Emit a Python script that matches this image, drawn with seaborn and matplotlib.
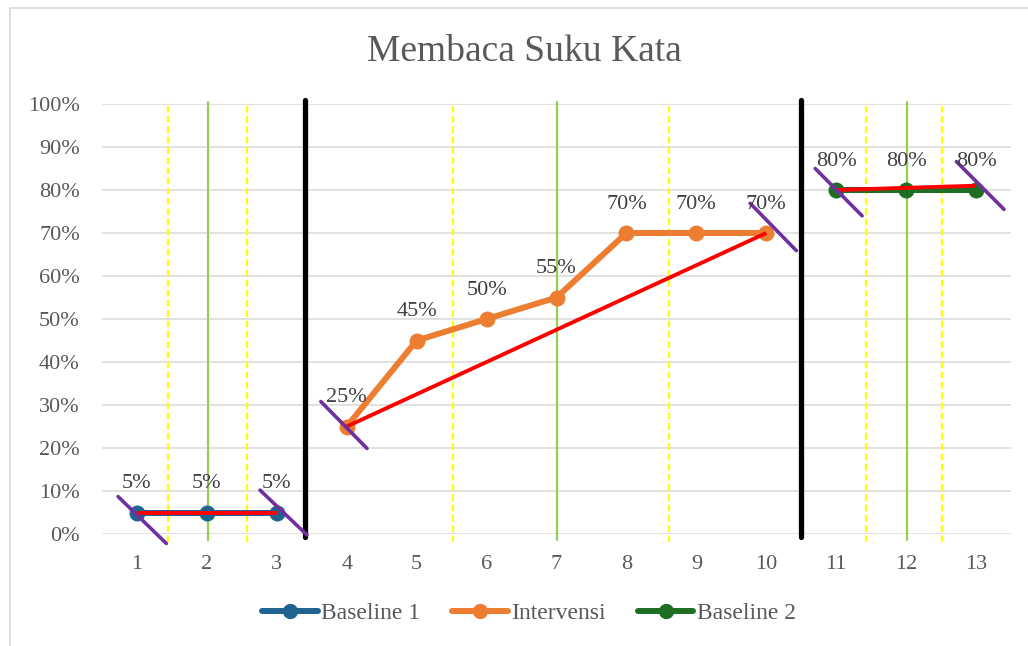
import pandas as pd
import numpy as np
import seaborn as sns
import matplotlib.pyplot as plt
from matplotlib.lines import Line2D

# data
sesi_b1 = [1, 2, 3]
nilai_b1 = [5, 5, 5]
sesi_int = [4, 5, 6, 7, 8, 9, 10]
nilai_int = [25, 45, 50, 55, 70, 70, 70]
sesi_b2 = [11, 12, 13]
nilai_b2 = [80, 80, 80]

fase = ['Baseline 1', 'Intervensi', 'Baseline 2']
warna = {'Baseline 1': '#1F6391', 'Intervensi': '#ED7D31', 'Baseline 2': '#1E6E24'}

# trend lines (start, end) per phase
tren_x = [[1, 3], [4, 10], [11, 13]]
tren_y = [[4.8, 4.8], [25, 70], [80, 81]]

# purple slanted markers (x0, x1, y0, y1)
miring = [
    (0.73, 1.42, 8.7, -2.2),
    (2.76, 3.43, 10.2, -0.2),
    (3.63, 4.29, 30.8, 19.9),
    (9.77, 10.43, 76.9, 65.9),
    (10.70, 11.37, 85.0, 74.0),
    (12.72, 13.40, 86.6, 75.5),
]

garis_kuning = [1.45, 2.58, 5.52, 8.61, 11.42, 12.51]
garis_hijau = [2.01, 7.0, 12.01]
garis_hitam = [3.41, 10.49]

df = pd.concat([
    pd.DataFrame({'sesi': sesi_b1, 'nilai': nilai_b1, 'fase': fase[0]}),
    pd.DataFrame({'sesi': sesi_int, 'nilai': nilai_int, 'fase': fase[1]}),
    pd.DataFrame({'sesi': sesi_b2, 'nilai': nilai_b2, 'fase': fase[2]}),
], ignore_index=True)

sns.set_style('white')
plt.rcParams['font.family'] = ['Liberation Serif', 'DejaVu Serif']
teks = '#595959'

fig = plt.figure(figsize=(10.28, 6.46), dpi=100)
ax = fig.add_axes([102 / 1028, 1 - 534 / 646, (1011 - 102) / 1028, (534 - 104) / 646])

# gridlines
ax.set_yticks(np.arange(0, 101, 10))
ax.yaxis.grid(True, color='#D9D9D9', linewidth=1.1)
ax.set_axisbelow(True)

# vertical phase / session lines
for x in garis_kuning:
    ax.plot([x, x], [-1.8, 100.5], color='#FFFF00', linewidth=1.6,
            linestyle=(0, (3, 1.6)), clip_on=False, zorder=1)
for x in garis_hijau:
    ax.plot([x, x], [-1.5, 100.5], color='#92D050', linewidth=1.6, clip_on=False, zorder=1)
for x in garis_hitam:
    ax.plot([x, x], [-0.8, 101], color='black', linewidth=3.8, clip_on=False, zorder=5)

sns.lineplot(data=df, x='sesi', y='nilai', hue='fase', palette=warna, marker='o',
             markersize=11.5, markeredgewidth=0, linewidth=4.3, ax=ax, legend=False,
             zorder=3)

for xs, ys in zip(tren_x, tren_y):
    ax.plot(xs, ys, color='#FF0000', linewidth=2.8, zorder=4, solid_capstyle='butt')

for x0, x1, y0, y1 in miring:
    ax.plot([x0, x1], [y0, y1], color='#7030A0', linewidth=2.6, zorder=6, clip_on=False)

# data labels
for s, v in zip(df['sesi'], df['nilai']):
    ax.annotate(f'{v}%', (s, v), xytext=(0, 14), textcoords='offset points',
                ha='center', va='bottom', fontsize=16, color='#404040', zorder=7)

ax.set_xlim(0.5, 13.5)
ax.set_ylim(0, 100)
ax.set_xticks(range(1, 14))
ax.set_yticklabels([f'{v}%' for v in range(0, 101, 10)])
ax.tick_params(axis='both', length=0, labelsize=16, labelcolor=teks)
ax.tick_params(axis='y', pad=16)
ax.tick_params(axis='x', pad=15)
ax.set_xlabel('')
ax.set_ylabel('')
sns.despine(ax=ax, left=True, bottom=True)

fig.text(0.510, 1 - 52 / 646, 'Membaca Suku Kata', ha='center', va='center',
         fontsize=27, color=teks)

handles = [Line2D([], [], color=warna[f], linewidth=4.3, marker='o', markersize=11,
                  markeredgewidth=0) for f in fase]
leg = fig.legend(handles, fase, loc='center', bbox_to_anchor=(529 / 1028, 1 - 613 / 646),
                 ncol=3, frameon=False, fontsize=17, handlelength=2.35,
                 handletextpad=0.15, columnspacing=1.35)
for t in leg.get_texts():
    t.set_color(teks)

# chart border (cut at right/bottom in the reference)
fig.add_artist(Line2D([9.5 / 1028, 9.5 / 1028], [0, 1 - 7.5 / 646], color='#D9D9D9',
                      linewidth=1.2, transform=fig.transFigure))
fig.add_artist(Line2D([9.5 / 1028, 1], [1 - 7.5 / 646, 1 - 7.5 / 646], color='#D9D9D9',
                      linewidth=1.2, transform=fig.transFigure))

fig.savefig('out.png', dpi=100)
